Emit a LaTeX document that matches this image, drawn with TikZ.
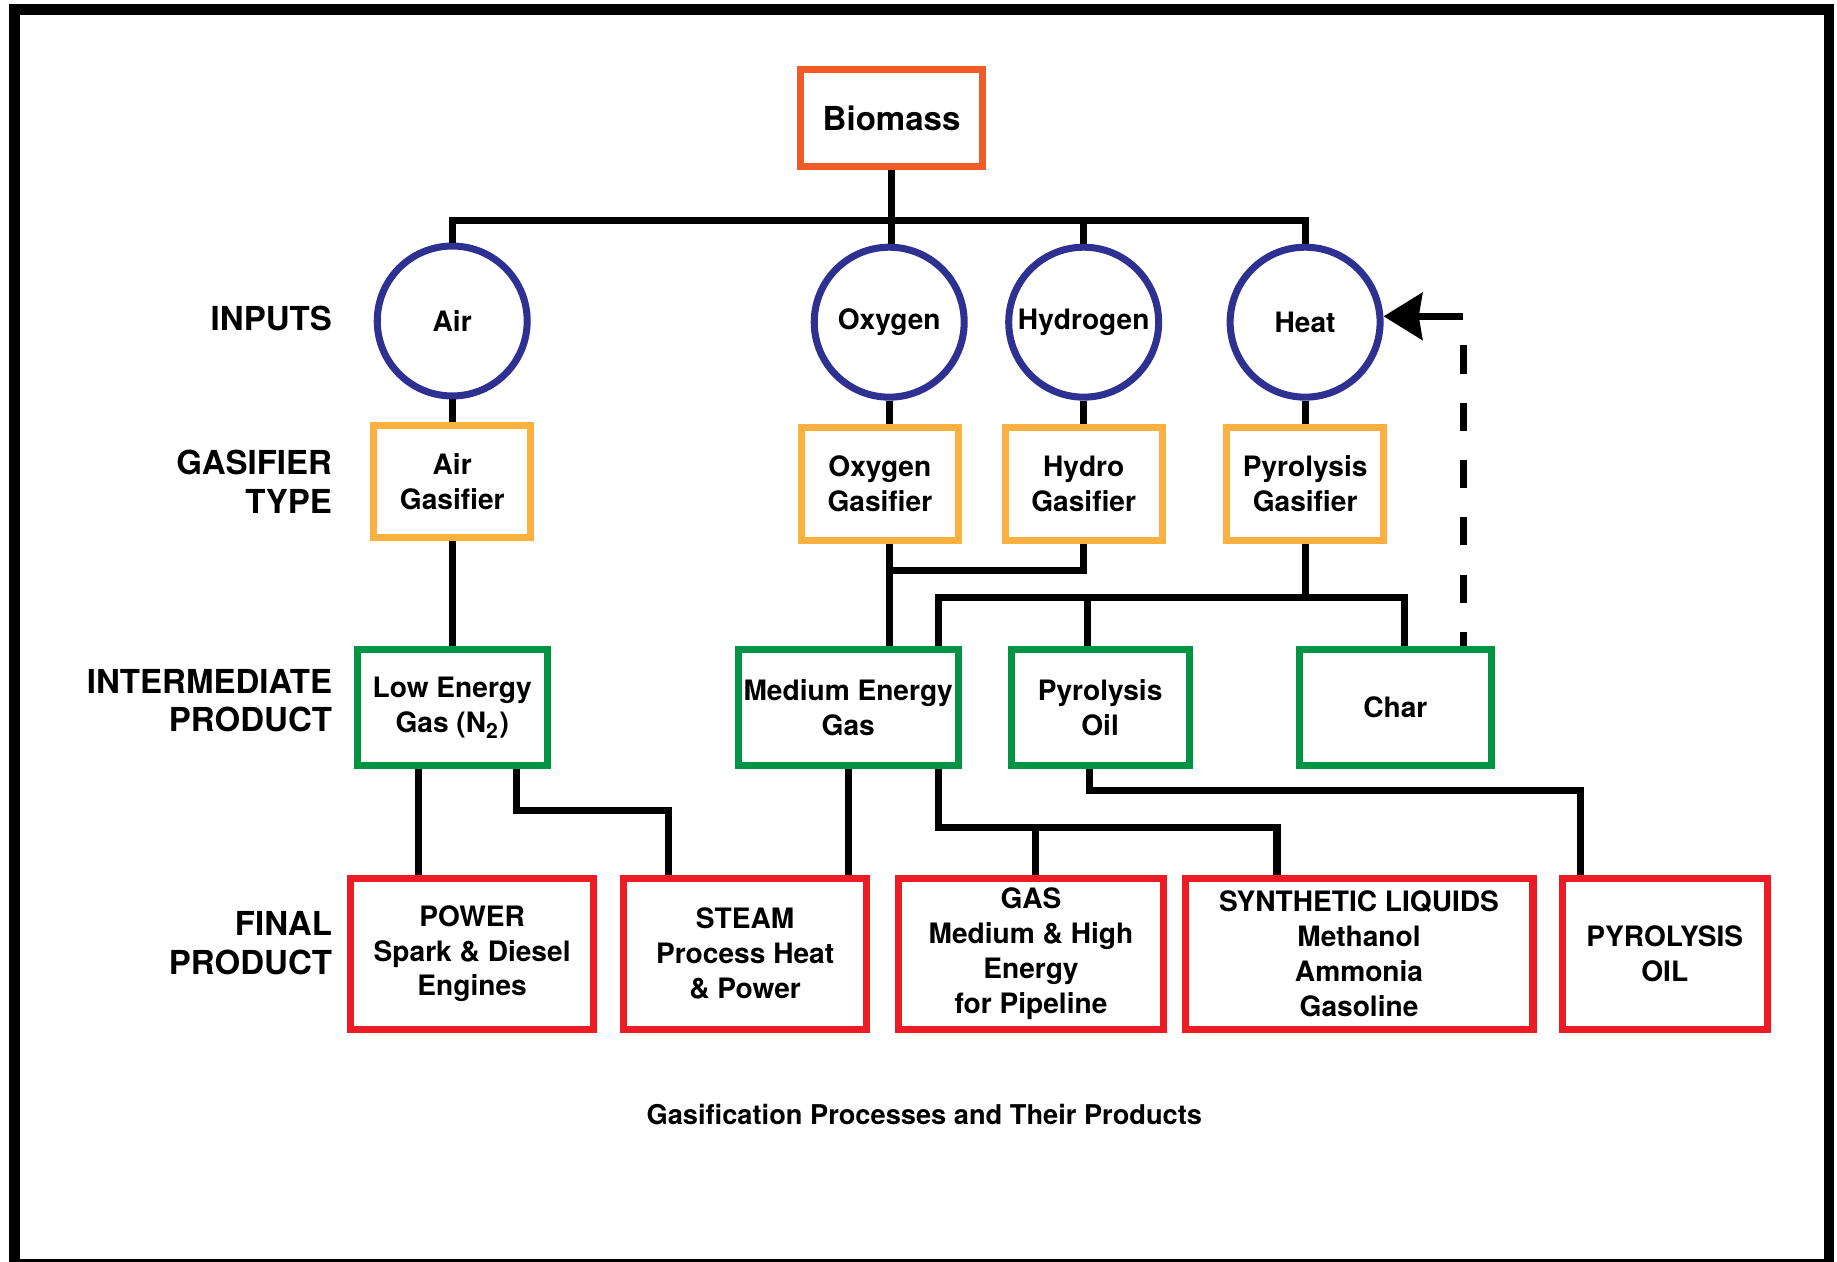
\documentclass[tikz,border=0pt]{standalone}
\usepackage{fontspec}
\setmainfont{TeX Gyre Heros}
\usetikzlibrary{arrows.meta}

\newcommand{\pxu}{0.011716cm}
\definecolor{biomassorange}{HTML}{F15A29}
\definecolor{gasifieryellow}{HTML}{FBB040}
\definecolor{intergreen}{HTML}{009444}
\definecolor{finalred}{HTML}{ED1C24}
\definecolor{inputblue}{HTML}{2E3192}

\tikzset{
  boxtext/.style={font=\fontsize{8}{9.9}\selectfont\bfseries, align=center, inner sep=0pt},
  biomassbox/.style={draw=biomassorange, line width=2pt, font=\fontsize{9.4}{11}\selectfont\bfseries, minimum width=155*\pxu, minimum height=83*\pxu},
  inputcirc/.style={boxtext, circle, draw=inputblue, line width=2pt, minimum size=128*\pxu},
  gasbox/.style={boxtext, draw=gasifieryellow, line width=2pt, minimum width=134*\pxu, minimum height=96*\pxu},
  interbox/.style={boxtext, draw=intergreen, line width=2pt, minimum height=99*\pxu},
  finalbox/.style={boxtext, draw=finalred, line width=2pt, minimum height=129*\pxu},
  rowlabel/.style={anchor=east, align=right, inner sep=0pt, font=\fontsize{9.4}{11}\selectfont\bfseries},
  link/.style={line width=2pt},
  feedback/.style={line width=2pt, dash pattern=on 8pt off 8.3pt, dash phase=8pt},
}

\begin{document}
\begin{tikzpicture}[x=\pxu, y=-\pxu]

    \useasboundingbox (0,0) rectangle (1568,1077);
    \draw[line width=3pt] (12.5,8) rectangle (1561,1079);

    % row labels
    \node[rowlabel] (lInputs) at (284,272) {INPUTS};
    \node[rowlabel] (lGasifier) at (284,411) {GASIFIER\\TYPE};
    \node[rowlabel] (lInter) at (284,598) {INTERMEDIATE\\PRODUCT};
    \node[rowlabel] (lFinal) at (284,805) {FINAL\\PRODUCT};

    \node[biomassbox] (BM) at (761,101) {Biomass};

    \node[inputcirc] (AI) at (386,274) {Air};
    \node[inputcirc] (OX) at (759,275) {Oxygen};
    \node[inputcirc] (HY) at (925,275) {Hydrogen};
    \node[inputcirc] (HT) at (1114,275) {Heat};

    \node[gasbox] (AG) at (386,411) {Air\\Gasifier};
    \node[gasbox] (OG) at (751,413) {Oxygen\\Gasifier};
    \node[gasbox] (HG) at (925,413) {Hydro\\Gasifier};
    \node[gasbox] (PG) at (1114,413) {Pyrolysis\\Gasifier};

    \node[interbox, minimum width=162*\pxu] (LE) at (386,604) {Low Energy\\Gas (N\textsubscript{2})};
    \node[interbox, minimum width=188*\pxu] (ME) at (724,604) {Medium Energy\\Gas};
    \node[interbox, minimum width=152*\pxu] (PO) at (939,604) {Pyrolysis\\Oil};
    \node[interbox, minimum width=164*\pxu] (CH) at (1191,604) {Char};

    \node[finalbox, minimum width=207*\pxu] (PW) at (403,814) {POWER\\Spark \& Diesel\\Engines};
    \node[finalbox, minimum width=207*\pxu] (ST) at (636,814) {STEAM\\Process Heat\\\& Power};
    \node[finalbox, minimum width=226*\pxu] (GA) at (880,814) {GAS\\Medium \& High\\Energy\\for Pipeline};
    \node[finalbox, minimum width=297*\pxu] (SL) at (1160,814) {SYNTHETIC LIQUIDS\\Methanol\\Ammonia\\Gasoline};
    \node[finalbox, minimum width=175*\pxu] (PY) at (1421,814) {PYROLYSIS\\OIL};

    \node[font=\fontsize{7.75}{9}\selectfont\bfseries] (cap) at (789,951) {Gasification Processes and Their Products};

    % biomass to inputs
    \draw[link] (AI.north) -- ++(0,-19) -| (HT.north);
    \draw[link] (BM.south) -- (BM.south |- OX.north);
    \draw[link] (HY.north) -- ++(0,-19);

    % inputs to gasifiers
    \draw[link] (AI.south) -- (AI.south |- AG.north);
    \draw[link] (OX.south) -- (OX.south |- OG.north);
    \draw[link] (HY.south) -- (HY.south |- HG.north);
    \draw[link] (HT.south) -- (HT.south |- PG.north);

    % gasifiers to intermediate products
    \draw[link] (AG.south) -- (AG.south |- LE.north);
    \draw[link] (OX.south |- OG.south) -- (OX.south |- ME.north);
    \draw[link] (HG.south) -- ++(0,23) -| (OX.south |- OG.south);
    \draw[link] (PG.south) -- ++(0,46) coordinate (pj);
    \draw[link] ([xshift=77*\pxu]ME.north) |- (pj) -| ([xshift=8*\pxu]CH.north);
    \draw[link] ([xshift=-11*\pxu]PO.north) -- ([xshift=-11*\pxu]PO.north |- pj);

    % char back to heat
    \coordinate (fb) at ([xshift=58*\pxu, yshift=5*\pxu]CH.north |- HT.east);
    \draw[feedback] (fb) -- ([xshift=58*\pxu]CH.north);
    \draw[link, -{Stealth[length=11pt, width=13.3pt, inset=1pt]}] (fb) -- (fb -| HT.east);

    % intermediate to final products
    \draw[link] ([xshift=-29*\pxu]LE.south) -- ([xshift=-29*\pxu]LE.south |- PW.north);
    \draw[link] ([xshift=55*\pxu]LE.south) -- ++(0,35) -| ([xshift=-65*\pxu]ST.north);
    \draw[link] (ME.south) -- (ME.south |- ST.north);
    \draw[link] ([xshift=77*\pxu]ME.south) -- ++(0,50) -| ([xshift=-70*\pxu]SL.north);
    \draw[link] ([xshift=4*\pxu]GA.north) -- ++(0,-40);
    \draw[link] ([xshift=-9*\pxu]PO.south) -- ++(0,18) -| ([xshift=-72*\pxu]PY.north);
\end{tikzpicture}
\end{document}
